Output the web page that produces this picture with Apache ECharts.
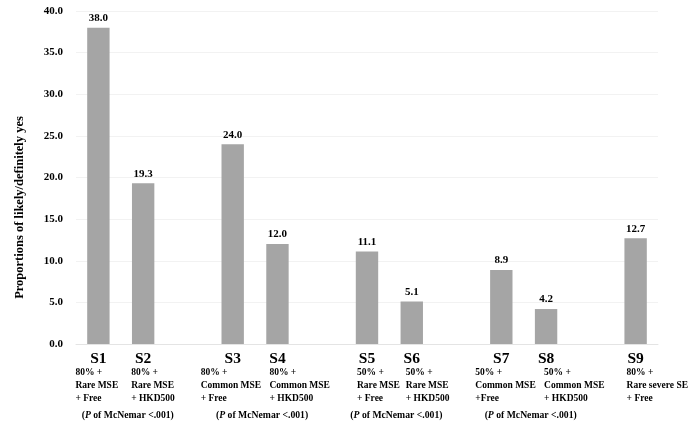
<!DOCTYPE html>
<html><head><meta charset="utf-8">
<script src="https://cdn.jsdelivr.net/npm/echarts@6/dist/echarts.min.js"></script>
<style>html,body{margin:0;padding:0;background:#fff}#c{width:696px;height:431px}</style>
</head><body><div id="c"></div>
<script>
// ---- data ----
const categories = ['S1','S2','','S3','S4','','S5','S6','','S7','S8','','S9'];
const values = [38.0, 19.3, null, 24.0, 12.0, null, 11.1, 5.1, null, 8.9, 4.2, null, 12.7];
const descriptions = {
  'S1': ['80% +','Rare MSE','+ Free'],
  'S2': ['80% +','Rare MSE','+ HKD500'],
  'S3': ['80% +','Common MSE','+ Free'],
  'S4': ['80% +','Common MSE','+ HKD500'],
  'S5': ['50% +','Rare MSE','+ Free'],
  'S6': ['50% +','Rare MSE','+ HKD500'],
  'S7': ['50% +','Common MSE','+Free'],
  'S8': ['50% +','Common MSE','+ HKD500'],
  'S9': ['80% +','Rare severe SE','+ Free']
};
const pairs = [['S1','S2'],['S3','S4'],['S5','S6'],['S7','S8']];
const pairNote = '<.001';
const yTicks = [0,5,10,15,20,25,30,35,40];

// ---- layout (not data) ----
const descDx = {S1:-23,S2:-12,S3:-32,S4:-8,S5:-10,S6:-6,S7:-26,S8:-2,S9:-9};
const FONT = '"Liberation Serif", "Times New Roman", serif';

const chart = echarts.init(document.getElementById('c'));
chart.setOption({
  animation: false,
  textStyle: { fontFamily: FONT },
  grid: { left: 76, right: 38, top: 11, bottom: 87 },
  xAxis: {
    type: 'category',
    data: categories,
    axisTick: { show: false },
    axisLine: { lineStyle: { color: '#e4e4e4', width: 1 } },
    axisLabel: { interval: 0, fontFamily: FONT, fontWeight: 'bold', fontSize: 15.5, color: '#000', margin: 7 }
  },
  yAxis: {
    type: 'value', min: yTicks[0], max: yTicks[yTicks.length-1], interval: 5,
    name: 'Proportions of likely/definitely yes',
    nameLocation: 'middle', nameGap: 50,
    nameTextStyle: { fontFamily: FONT, fontWeight: 'bold', fontSize: 12.5, color: '#000', padding: [0, 60, 0, 0] },
    axisLine: { show: false }, axisTick: { show: false },
    splitLine: { lineStyle: { color: '#f2f2f2' } },
    axisLabel: { fontFamily: FONT, fontWeight: 'bold', fontSize: 11, color: '#000', margin: 13,
      formatter: v => v.toFixed(1) }
  },
  series: [{
    type: 'bar',
    data: values.map(v => v === null ? '-' : v),
    barWidth: '50%',
    itemStyle: { color: '#a5a5a5' },
    label: { show: true, position: 'top', distance: 4, fontFamily: FONT, fontWeight: 'bold', fontSize: 11, color: '#000',
      formatter: p => Number(p.value).toFixed(1) }
  }]
});

// annotations placed via the chart's own scales
const base = chart.convertToPixel({yAxisIndex: 0}, 0);
const xOf = c => chart.convertToPixel({xAxisIndex: 0}, c);
const graphics = [];
Object.keys(descriptions).forEach(k => {
  graphics.push({
    type: 'text', x: xOf(k) + descDx[k], y: base + 22,
    style: { text: descriptions[k].join('\n'), font: 'bold 9.5px ' + FONT, fill: '#000',
      textAlign: 'left', textVerticalAlign: 'top', lineHeight: 13 }
  });
});
pairs.forEach(p => {
  const cx = (xOf(p[0]) + xOf(p[1])) / 2 + 7;
  graphics.push({
    type: 'text', x: cx, y: base + 71,
    style: {
      text: '{p|(}{i|P}{p| of McNemar ' + pairNote + ')}',
      textAlign: 'center', textVerticalAlign: 'middle',
      rich: {
        p: { font: 'bold 9.7px ' + FONT, fill: '#000' },
        i: { font: 'italic bold 9.7px ' + FONT, fill: '#000' }
      }
    }
  });
});
chart.setOption({ graphic: graphics });
</script>
</body></html>
